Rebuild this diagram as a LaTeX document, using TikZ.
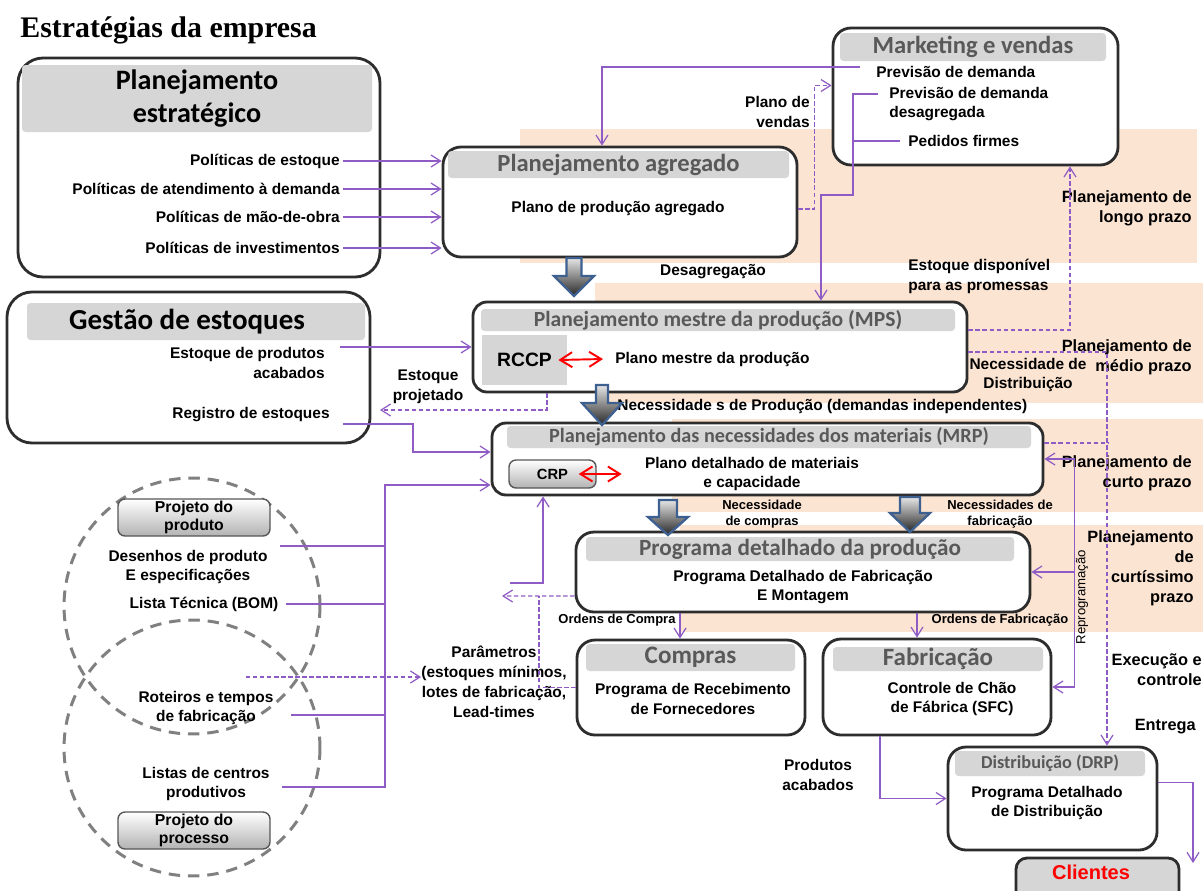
\documentclass[tikz,border=0pt]{standalone}
\usepackage{fontspec}
\setmainfont{Liberation Sans}
\newfontfamily\calib{Carlito}
\newfontfamily\tserif{Liberation Serif}
\usetikzlibrary{arrows.meta,fit}
\definecolor{lila}{RGB}{142,92,196}
\definecolor{peach}{RGB}{252,228,210}
\definecolor{headgray}{RGB}{214,214,214}
\definecolor{headtxt}{RGB}{89,89,89}
\definecolor{boxline}{RGB}{45,45,45}
\definecolor{arrblue}{RGB}{62,96,145}
\definecolor{circgray}{RGB}{128,128,128}
\newcommand{\bigdown}[5]{%
  \draw[blockarr] (#1-#5,#2) -- (#1+#5,#2) -- (#1+#5,#3) -- (#1+20,#3) -- (#1,#4)
    -- (#1-20,#3) -- (#1-#5,#3) -- cycle;}

\begin{document}
\begin{tikzpicture}[
  x=0.02cm, y=-0.02cm,
  box/.style={draw=boxline,line width=1.6pt,rounded corners=0.36cm,fill=white,inner sep=0pt},
  head/.style={fill=headgray,rounded corners=2pt,inner sep=0pt},
  htxt/.style={inner sep=0pt,text=headtxt,align=center},
  txt/.style={font=\bfseries\fontsize{8.8}{11.3}\selectfont,inner sep=0pt,align=center},
  small/.style={font=\bfseries\fontsize{7.4}{9}\selectfont,inner sep=0pt,align=center},
  side/.style={font=\bfseries\fontsize{9.3}{11.4}\selectfont,inner sep=0pt,align=right,anchor=east},
  band/.style={fill=peach,draw=none},
  lin/.style={draw=lila,line width=0.7pt},
  arr/.style={lin,-{Straight Barb[length=1.9mm,width=2.4mm]}},
  darr/.style={arr,dash pattern=on 2.5pt off 1.5pt},
  dlin/.style={lin,dash pattern=on 2.5pt off 1.5pt},
  redarr/.style={draw=red,line width=1.1pt,{Straight Barb[length=2.4mm,width=3mm]}-{Straight Barb[length=2.4mm,width=3mm]}},
  grad/.style={draw=boxline!80,line width=0.8pt,rounded corners=4pt,top color=white,bottom color=gray!60,inner sep=0pt},
  circ/.style={draw=circgray,line width=1.7pt,dash pattern=on 6.5pt off 4.5pt,circle,minimum size=5.12cm,inner sep=0pt},
  blockarr/.style={draw=arrblue,line width=1.3pt,top color=gray!20,bottom color=black!85,line join=miter}
]
\fill[white] (0,0) rectangle (1203,890);
\useasboundingbox (0,0) rectangle (1203,890);

\fill[band] (520,129) rectangle (1197,263);
\fill[band] (595,283) rectangle (1203,403);
\fill[band] (672,419) rectangle (1203,512);
\fill[band] (680,525) rectangle (1203,632);

\node[anchor=west,font=\tserif\bfseries\fontsize{17}{19}\selectfont,inner sep=0pt] (tit) at (20,30) {Estratégias da empresa};

\node[circ] (cprod) at (192,606) {};
\node[circ] (cproc) at (192,748) {};

\node[box,rounded corners=0.5cm,fit={(18,58) (380,277)}] (estr) {};
\node[head,fit={(22,65) (372,132)}] (estrH) {};
\node[htxt,text=black,font=\calib\bfseries\fontsize{16}{18.5}\selectfont] (estrT) at (estrH) {Planejamento\\estratégico};
\node[box,fit={(443,147) (797,257)}] (agreg) {};
\node[head,fit={(448,151) (789,178)}] (agregH) {};
\node[htxt,font=\calib\bfseries\fontsize{14}{15}\selectfont] (agregT) at (agregH) {Planejamento agregado};
\node[box,fit={(833,28) (1118,165)}] (mkt) {};
\node[head,fit={(840,33) (1106,61)}] (mktH) {};
\node[htxt,font=\calib\bfseries\fontsize{14}{15}\selectfont] (mktT) at (mktH) {Marketing e vendas};
\node[box,rounded corners=0.5cm,fit={(7,292) (370,443)}] (gest) {};
\node[head,fit={(27,303) (365,340)}] (gestH) {};
\node[htxt,text=black,font=\calib\bfseries\fontsize{16.5}{18}\selectfont] (gestT) at ([xshift=-0.18cm]gestH.center) {Gestão de estoques};
\node[box,rounded corners=0.28cm,fit={(473,302) (967,392)}] (mps) {};
\node[head,fit={(481,309) (955,331)}] (mpsH) {};
\node[htxt,font=\calib\bfseries\fontsize{12.3}{13}\selectfont] (mpsT) at (mpsH) {Planejamento mestre da produção (MPS)};
\node[box,rounded corners=0.28cm,fit={(492,423) (1043,495)}] (mrp) {};
\node[head,fit={(507,426) (1031,448)}] (mrpH) {};
\node[htxt,font=\calib\bfseries\fontsize{11.5}{12}\selectfont] (mrpT) at (mrpH) {Planejamento das necessidades dos materiais (MRP)};
\node[box,fit={(576,532) (1030,612)}] (pdp) {};
\node[head,fit={(586,537) (1014,561)}] (pdpH) {};
\node[htxt,font=\calib\bfseries\fontsize{13.2}{14}\selectfont] (pdpT) at (pdpH) {Programa detalhado da produção};
\node[box,fit={(577,640) (805,735)}] (compras) {};
\node[head,fit={(586,644) (795,671)}] (comprasH) {};
\node[htxt,font=\calib\bfseries\fontsize{14.3}{15}\selectfont] (comprasT) at (comprasH) {Compras};
\node[box,fit={(823,639) (1051,735)}] (fabr) {};
\node[head,fit={(833,647) (1043,671)}] (fabrH) {};
\node[htxt,font=\calib\bfseries\fontsize{14.2}{15}\selectfont] (fabrT) at (fabrH) {Fabricação};
\node[box,fit={(948,747) (1157,850)}] (dist) {};
\node[head,fit={(955,751) (1145,776)}] (distH) {};
\node[htxt,font=\calib\bfseries\fontsize{10.4}{11}\selectfont] (distT) at (distH) {Distribuição (DRP)};
\node[box,fill=headgray,rounded corners=0.22cm,fit={(1016,858) (1179,910)}] (cli) {};
\node[font=\bfseries\fontsize{11.4}{12}\selectfont,text=red,inner sep=0pt] (cliT) at (1091,872) {Clientes};

\node[fill=headgray,inner sep=0pt,fit={(482,335) (567,385)}] (rccp) {};
\node[font=\bfseries\fontsize{11}{12}\selectfont,inner sep=0pt] (rccpT) at (rccp) {RCCP};
\node[grad,fit={(509,460) (596,488)}] (crp) {};
\node[font=\bfseries\fontsize{8.4}{9}\selectfont,inner sep=0pt] (crpT) at (crp) {CRP};
\node[grad,fit={(118,499) (270,536)}] (pprod) {};
\node[txt,font=\bfseries\fontsize{9}{10.5}\selectfont] (pprodT) at (pprod) {Projeto do\\produto};
\node[grad,fit={(118,812) (270,849)}] (pproc) {};
\node[txt,font=\bfseries\fontsize{9}{10.5}\selectfont] (pprocT) at (pproc) {Projeto do\\processo};

\node[txt,anchor=east] (pol1) at (340,161) {Políticas de estoque};
\node[txt,anchor=east] (pol2) at (340,189) {Políticas de atendimento à demanda};
\node[txt,anchor=east] (pol3) at (340,217) {Políticas de mão-de-obra};
\node[txt,anchor=east] (pol4) at (340,248) {Políticas de investimentos};
\node[txt] (ppa) at (618,209) {Plano de produção agregado};
\node[txt,anchor=west] (pd1) at (876,72) {Previsão de demanda};
\node[txt,anchor=west,align=left] (pd2) at (889,104) {Previsão de demanda\\desagregada};
\node[txt,anchor=west] (pf) at (908,141) {Pedidos firmes};
\node[txt,anchor=east,align=right] (pv) at (810,112) {Plano de\\vendas};
\node[txt] (desag) at (713,272) {Desagregação};
\node[txt,anchor=west,align=left] (edp) at (908,276) {Estoque disponível\\para as promessas};
\node[txt,anchor=east,align=right] (epa) at (325,363) {Estoque de produtos\\acabados};
\node[txt,anchor=east] (reg) at (330,415) {Registro de estoques};
\node[txt] (eprj) at (428,387) {Estoque\\projetado};
\node[txt,anchor=west] (pmp) at (615,359) {Plano mestre da produção};
\node[txt,anchor=west] (nprod) at (617,406) {Necessidade s de Produção (demandas independentes)};
\node[txt] (ndist) at (1028,375) {Necessidade de\\Distribuição};
\node[txt] (pdm) at (752,474) {Plano detalhado de materiais\\e capacidade};
\node[small] (nc) at (762,514) {Necessidade\\de compras};
\node[small] (nf) at (1000,514) {Necessidades de\\fabricação};
\node[txt] (pdf) at (803,587) {Programa Detalhado de Fabricação\\E Montagem};
\node[small] (ocl) at (617,620) {Ordens de Compra};
\node[small] (ofl) at (1000,620) {Ordens de Fabricação};
\node[txt] (prf) at (693,699) {Programa de Recebimento\\de Fornecedores};
\node[txt] (csf) at (952,699) {Controle de Chão\\de Fábrica (SFC)};
\node[txt] (pdd) at (1047,803) {Programa Detalhado\\de Distribuição};
\node[txt] (pacab) at (818,775) {Produtos\\acabados};
\node[font=\fontsize{7.5}{9}\selectfont,rotate=90,inner sep=0pt] (repro) at (1082,597) {Reprogramação};
\node[txt] (par) at (494,682) {Parâmetros\\(estoques mínimos,\\lotes de fabricação,\\Lead-times};
\node[txt] (des) at (188,567) {Desenhos de produto\\E especificações};
\node[txt] (bom) at (204,604) {Lista Técnica (BOM)};
\node[txt] (rot) at (206,708) {Roteiros e tempos\\de fabricação};
\node[txt] (lcp) at (206,784) {Listas de centros\\produtivos};

\node[side] (lp) at (1192,208) {Planejamento de\\longo prazo};
\node[side] (mp) at (1192,357) {Planejamento de\\médio prazo};
\node[side] (cp) at (1192,473) {Planejamento de\\curto prazo};
\node[side] (ccp) at (1194,568) {Planejamento\\de\\curtíssimo\\prazo};
\node[side] (exe) at (1202,670) {Execução e\\controle};
\node[side] (ent) at (1196,727) {Entrega};

\coordinate (pd1A) at (860,67);
\coordinate (pd2A) at (878,94);
\coordinate (pdV) at (853,94);
\coordinate (epaA) at (340,347);
\coordinate (regA) at (343,424);
\coordinate (epA) at (380,410);
\coordinate (desA) at (280,546);
\coordinate (bomA) at (286,604);
\coordinate (rotA) at (291,715);
\coordinate (lcpA) at (282,787);
\coordinate (vtop) at (385,485);
\coordinate (cirA) at (246,677);
\coordinate (parA) at (510,583);
\coordinate (pdpL) at (502,596);
\coordinate (pdpJ) at (539,596);
\coordinate (cliR) at (1193,863);
\coordinate (oc) at ([xshift=-2.46cm]pdp.south);
\coordinate (of) at ([xshift=2.28cm]pdp.south);

\foreach \p in {pol1,pol2,pol3,pol4}
  \draw[arr] ([xshift=0.06cm]\p.east) -- (\p.east -| agreg.west);
\draw[arr] (pd1A) -| ([xshift=-0.36cm]agreg.north);
\draw[darr] (agreg.east |- ppa) -- ++(16,0) |- ([yshift=0.22cm]mkt.west);
\draw[arr] (pd2A) -- (pdV) -- (853,195) -| ([xshift=2.02cm]mps.north);
\draw[lin] ([xshift=-0.16cm]pf.west) -- (pf.west -| pdV);
\draw[darr] ([yshift=0.34cm]mps.east) -| ([xshift=1.89cm]mkt.south);
\draw[darr] ([yshift=-0.1cm]mps.east) -| ([xshift=1.09cm]dist.north);
\draw[dlin] ([yshift=0.32cm]mrp.east) -- ++(64,0);
\draw[lin,{Straight Barb[length=1.9mm,width=2.4mm]}-{Straight Barb[length=1.9mm,width=2.4mm]}] (mrp.east) -- ++(30,0) |- (fabr.east);
\draw[arr] ([xshift=0.86cm]pdp.east) -- (pdp.east);
\draw[arr] ([yshift=0.32cm]dist.east) -| (cliR);
\draw[arr] ([xshift=-1.14cm]fabr.south) |- (dist.west);
\draw[arr] (oc) -- (oc |- compras.north);
\draw[arr] (of) -- (of |- fabr.north);
\draw[arr] (epaA) -- (mps.west);
\draw[arr] (regA) -- (413,424) |- ([yshift=0.14cm]mrp.west);
\draw[darr] ([xshift=-3.46cm]mps.south) |- (epA);
\draw[redarr] ([xshift=-0.18cm]rccp.east) -- ([xshift=-0.24cm]pmp.west);
\draw[redarr] ([xshift=-0.36cm]crp.east) -- ([xshift=-0.46cm]pdm.west |- crp.east);
\draw[lin] (desA) -- (desA -| vtop);
\draw[lin] (bomA) -- (bomA -| vtop);
\draw[lin] (rotA) -- (rotA -| vtop);
\draw[arr] (lcpA) -| (vtop) -- (vtop -| mrp.west);
\draw[darr] (cirA) -- (cirA -| par.west);
\draw[arr] (parA) -| ([xshift=-4.49cm]mrp.south);
\draw[darr] ([yshift=-0.48cm]pdp.west) -- (pdpL);
\draw[dlin] (compras.west) -| (pdpJ);

\bigdown{574}{258}{276}{296}{7.5}
\bigdown{602}{385}{403}{425}{6}
\bigdown{668}{500}{517}{535}{9}
\bigdown{910}{497}{513}{532}{10}
\end{tikzpicture}
\end{document}
